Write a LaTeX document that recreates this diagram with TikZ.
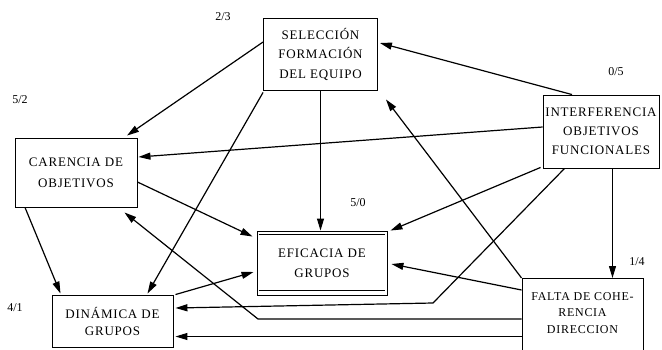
\documentclass[tikz,border=0pt]{standalone}
\usepackage{fontspec}
\setmainfont{Liberation Serif}
\newfontfamily\boxfont{Liberation Serif}[LetterSpace=6]
\usetikzlibrary{arrows.meta,calc}
\begin{document}
\begin{tikzpicture}[x=1pt,y=-1pt,
  box/.style={draw, line width=0.9pt, inner sep=0pt, align=center},
  boxtext/.style={font=\boxfont\fontsize{13}{#1}\selectfont},
  link/.style={line width=1.2pt, -{Triangle[length=12pt,width=7pt]}},
  straight/.style={line width=1pt, -{Triangle[length=12pt,width=7pt]}},
  score/.style={font=\fontsize{12}{12}\selectfont, inner sep=0pt}]
\useasboundingbox (0,0) rectangle (662,349);

% factor boxes
\node[box, boxtext=19.5, minimum width=114pt, minimum height=72pt] (sel) at (320.5,54)
  {SELECCIÓN\\FORMACIÓN\\DEL EQUIPO};
\node[box, boxtext=21, minimum width=122pt, minimum height=69pt] (car) at (76,172.5)
  {CARENCIA DE\\OBJETIVOS};
\node[box, boxtext=19, minimum width=116pt, minimum height=73pt] (int) at (601,131.5)
  {INTERFERENCIA\\OBJETIVOS\\FUNCIONALES};
\node[box, boxtext=20, minimum width=130pt, minimum height=64pt] (efi) at (322,263)
  {EFICACIA DE\\GRUPOS};
\node[box, boxtext=17, minimum width=121pt, minimum height=52pt] (din) at (112.5,321)
  {DINÁMICA DE\\GRUPOS};
\node[box, font=\boxfont\fontsize{12}{16.5}\selectfont, minimum width=121pt, minimum height=76pt,
  anchor=north] (fal) at (582.5,278)
  {FALTA DE COHE-\\RENCIA\\DIRECCION\\[-9.5pt]};

% double rules of the central box
\draw[line width=0.9pt] ($(efi.north west)+(2,3.5)$) -- ($(efi.north east)+(-2,3.5)$);
\draw[line width=0.9pt] ($(efi.south west)+(2,-5.5)$) -- ($(efi.south east)+(-2,-5.5)$);

% in/out scores
\node[score] (s1) at (223,17) {2/3};
\node[score] (s2) at (20,100) {5/2};
\node[score] (s3) at (616,72) {0/5};
\node[score] (s4) at (358,203) {5/0};
\node[score] (s5) at (637,262) {1/4};
\node[score] (s6) at (15,308) {4/1};

% influences
\draw[link] ($(sel.west)+(0,-12)$) -- ($(car.north)+(51,-2)$);
\draw[link] ($(int.north)+(-29,0)$) -- ($(sel.east)+(2,-11)$);
\draw[link] ($(int.west)+(0,-4.5)$) -- ($(car.east)+(1,-15.5)$);
\draw[straight] (sel.south) -- (sel.south |- efi.north);
\draw[link] ($(sel.south west)+(0,2)$) -- ($(din.north)+(35,-1)$);
\draw[link] ($(car.south)+(-51,0)$) -- ($(din.north)+(-52,-1)$);
\draw[link] ($(car.east)+(0,9.5)$) -- ($(efi.north west)+(-4,6)$);
\draw[link] ($(din.north east)+(2,0)$) -- ($(efi.west)+(-3,9)$);
\draw[link] ($(int.south west)+(-2,-1)$) -- ($(efi.north east)+(3,0)$);
\coordinate (f1) at ($(int.south)+(11.5,0)$);
\draw[straight] (f1) -- (f1 |- fal.north);
\coordinate (k1) at (433,303);
\draw[link] ($(int.south west)+(22,0)$) -- (k1) -- ($(din.east)+(2,-13)$);
\draw[link] (fal.north west) -- ($(sel.south east)+(8,9)$);
\draw[link] ($(fal.north west)+(0,12)$) -- ($(efi.east)+(4,1)$);
\coordinate (k2) at (258,319);
\draw[link] ($(fal.north west)+(0,41)$) -- (k2) -- ($(car.south east)+(-13,5)$);
\draw[straight] ($(fal.north west)+(0,58.5)$) -- ($(din.east)+(2,15.5)$);
\end{tikzpicture}
\end{document}
